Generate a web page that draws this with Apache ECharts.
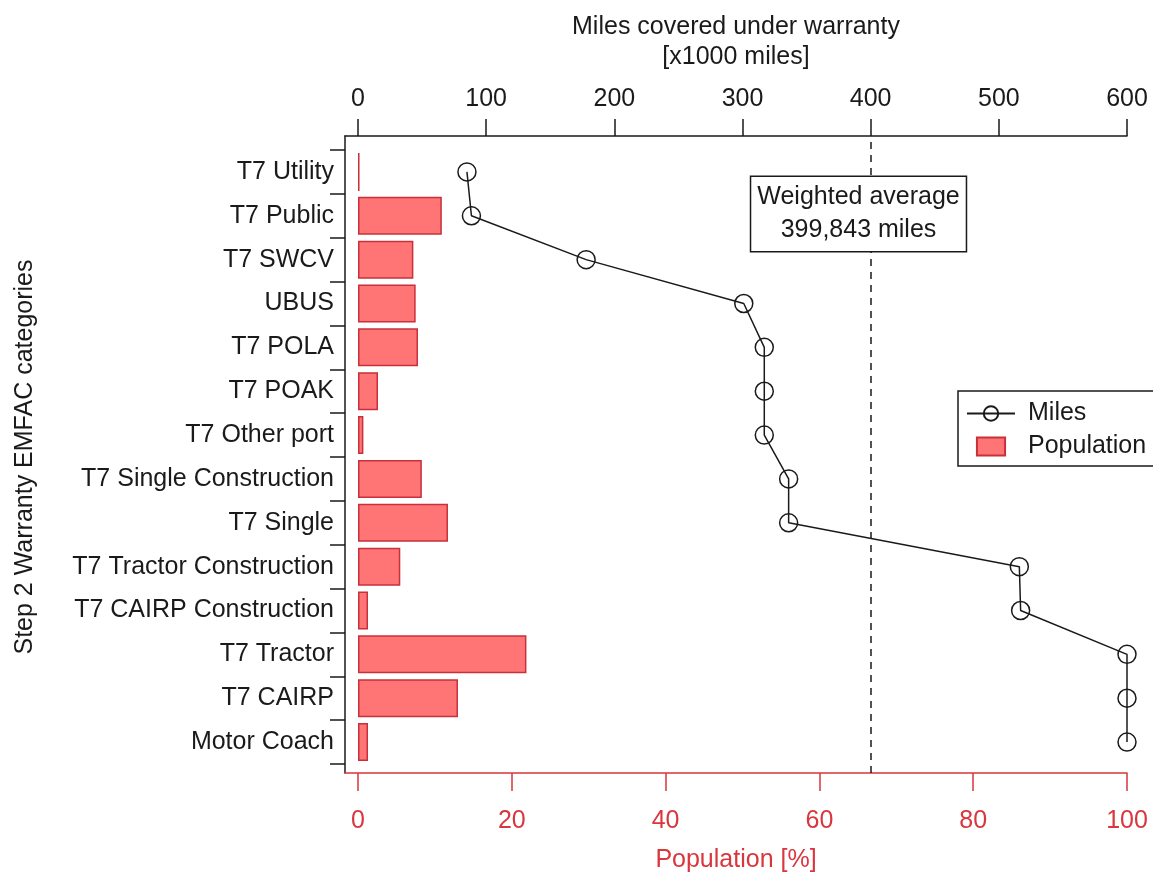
<!DOCTYPE html>
<html>
<head>
<meta charset="utf-8">
<script src="https://cdn.jsdelivr.net/npm/echarts@6/dist/echarts.min.js"></script>
<style>
html,body{margin:0;padding:0;background:#fff;}
#chart{width:1153px;height:875px;}
</style>
</head>
<body>
<div id="chart"></div>
<script>
const categories = ['T7 Utility','T7 Public','T7 SWCV','UBUS','T7 POLA','T7 POAK','T7 Other port',
  'T7 Single Construction','T7 Single','T7 Tractor Construction','T7 CAIRP Construction',
  'T7 Tractor','T7 CAIRP','Motor Coach'];
const milesK = [85, 88.5, 178, 301, 317, 317, 317, 336, 336, 516, 517, 600, 600, 600];
const populationPct = [0.2, 10.9, 7.2, 7.5, 7.8, 2.6, 0.7, 8.3, 11.7, 5.5, 1.3, 21.9, 13.0, 1.3];
const milesTicks = [0, 100, 200, 300, 400, 500, 600];
const popTicks = [0, 20, 40, 60, 80, 100];
const weightedAverage = 399.843;
const weightedLabel = 'Weighted average\n399,843 miles';

const FONT = "'Liberation Sans', Arial, sans-serif";
const RED = '#d9363e';
const INK = '#1a1a1a';
// axes frame extends 13px left of the data origin
const milesMin = -600 * 13 / 769;
const popMin = -100 * 13 / 769;

const chart = echarts.init(document.getElementById('chart'), null, {renderer: 'canvas'});
chart.setOption({
  animation: false,
  backgroundColor: '#fff',
  textStyle: {fontFamily: FONT},
  grid: [
    {left: 345, right: 26, top: 136, bottom: 102, containLabel: false, outerBoundsMode: 'none'},
    {left: 358, right: 26, top: 150, bottom: 111, containLabel: false, outerBoundsMode: 'none'}
  ],
  xAxis: [
    {
      gridIndex: 0, type: 'value', position: 'top', min: milesMin, max: 600,
      name: 'Miles covered under warranty\n[x1000 miles]', nameLocation: 'middle', nameGap: 64,
      nameTextStyle: {fontSize: 25, color: INK, lineHeight: 30, fontFamily: FONT},
      axisLine: {show: true, onZero: false, lineStyle: {color: INK, width: 1.5}},
      axisTick: {show: true, length: 17, lineStyle: {color: INK, width: 1.5}, customValues: milesTicks},
      axisLabel: {fontSize: 25, color: INK, margin: 24, fontFamily: FONT, customValues: milesTicks},
      splitLine: {show: false}
    },
    {
      gridIndex: 0, type: 'value', position: 'bottom', min: popMin, max: 100,
      name: 'Population [%]', nameLocation: 'middle', nameGap: 74,
      nameTextStyle: {fontSize: 25, color: RED, lineHeight: 26, fontFamily: FONT},
      axisLine: {show: true, onZero: false, lineStyle: {color: RED, width: 1.5}},
      axisTick: {show: true, length: 18, lineStyle: {color: RED, width: 1.5}, customValues: popTicks},
      axisLabel: {fontSize: 25, color: RED, margin: 36, fontFamily: FONT, customValues: popTicks},
      splitLine: {show: false}
    },
    {gridIndex: 1, type: 'value', min: 0, max: 600, show: false},
    {gridIndex: 1, type: 'value', min: 0, max: 100, show: false}
  ],
  yAxis: [
    {
      gridIndex: 0, type: 'value', min: 0, max: 1,
      axisLine: {show: true, onZero: false, lineStyle: {color: INK, width: 1.5}},
      axisTick: {show: false}, axisLabel: {show: false}, splitLine: {show: false}
    },
    {
      gridIndex: 1, type: 'category', inverse: true, data: categories, offset: 13,
      name: 'Step 2 Warranty EMFAC categories', nameLocation: 'middle', nameGap: 307,
      nameTextStyle: {fontSize: 25, color: INK, fontFamily: FONT},
      axisLine: {show: false, onZero: false},
      axisTick: {show: true, length: 15, lineStyle: {color: INK, width: 1.5}},
      axisLabel: {fontSize: 25, color: INK, margin: 11, fontFamily: FONT, interval: 0},
      splitLine: {show: false}
    }
  ],
  legend: {
    orient: 'vertical', left: 958, top: 391,
    padding: [10, 12, 7, 8], itemGap: 8, itemWidth: 48, itemHeight: 18,
    borderColor: INK, borderWidth: 1.5, backgroundColor: '#fff',
    textStyle: {fontSize: 25, color: INK, fontFamily: FONT, lineHeight: 25, padding: [0, 0, 0, 8]},
    data: [
      {name: 'Miles'},
      {name: 'Population', icon: 'path://M0,0H25V16H0Z'}
    ]
  },
  series: [
    {
      name: 'Population', type: 'bar', xAxisIndex: 3, yAxisIndex: 1,
      data: populationPct, barWidth: 38,
      itemStyle: {color: '#ff7575', borderColor: '#c8303a', borderWidth: 1.5},
      z: 2
    },
    {
      name: 'Miles', type: 'line', xAxisIndex: 2, yAxisIndex: 1,
      data: milesK, symbol: 'circle', symbolSize: 18,
      itemStyle: {color: 'rgba(255,255,255,0)', borderColor: INK, borderWidth: 1.5},
      lineStyle: {color: INK, width: 1.5},
      z: 4
    },
    {
      name: 'avg', type: 'line', xAxisIndex: 0, yAxisIndex: 0, data: [],
      markLine: {
        silent: true, symbol: 'none', label: {show: false},
        lineStyle: {color: INK, width: 1.5, type: [7, 6]},
        data: [{xAxis: weightedAverage}]
      },
      z: 3
    }
  ],
  graphic: [
    {
      type: 'text', x: 858.5, y: 177, z: 100,
      style: {
        text: weightedLabel, fontSize: 25, fontFamily: FONT, fill: INK,
        align: 'center', verticalAlign: 'top', lineHeight: 33,
        backgroundColor: '#fff', borderColor: INK, borderWidth: 1.5,
        padding: [4, 6, 4, 6]
      }
    }
  ]
});
</script>
</body>
</html>
